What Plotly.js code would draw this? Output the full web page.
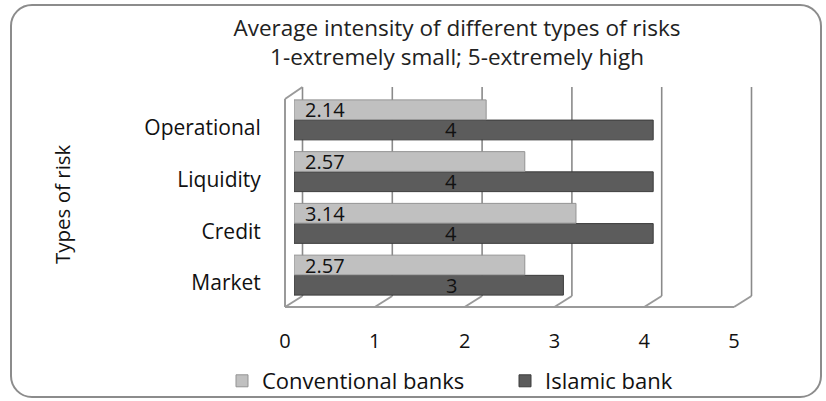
<!DOCTYPE html>
<html><head><meta charset="utf-8">
<script src="https://cdn.plot.ly/plotly-3.0.1.min.js"></script>
<style>
body{margin:0;background:#fff;}
#wrap{position:relative;width:826px;height:401px;}
#chart{width:826px;height:401px;}
#frame{position:absolute;left:10px;top:4px;width:812px;height:394px;border:2px solid #8c8c8c;border-radius:22px;pointer-events:none;box-sizing:border-box;}
</style></head>
<body><div id="wrap"><div id="chart"></div><div id="frame"></div></div>
<script>
const categories = ['Market', 'Credit', 'Liquidity', 'Operational'];
const conventional = [2.57, 3.14, 2.57, 2.14];
const islamic = [3, 4, 4, 4];
const seriesNames = ['Conventional banks', 'Islamic bank'];
const tickVals = [0, 1, 2, 3, 4, 5];

const FONT = '"Open Sans", "Noto Sans", sans-serif';
const W = 826, H = 401;
const M = {l:294, r:83, t:94, b:100};
const plotW = W - M.l - M.r, plotH = H - M.t - M.b;
const pxX = plotW / 5;                          // pixels per x unit
const fy = py => (H - M.b - py) / plotH;        // page pixel y -> paper y
const fx = (v, dpx) => (v * pxX + dpx) / plotW;  // axis value + pixel offset -> paper x
const BACK = 8.5, FRONT = -9;                   // 3D depth offsets in pixels

const traces = [
  {type:'bar', orientation:'h', name: seriesNames[1], y: categories, x: islamic, legend:'legend2',
   marker:{color:'#5c5c5c', line:{color:'#3c3c3c', width:1}}, hoverinfo:'x'},
  {type:'bar', orientation:'h', name: seriesNames[0], y: categories, x: conventional, legend:'legend',
   marker:{color:'#c0c0c0', line:{color:'#939393', width:1}}, hoverinfo:'x'}
];

const annotations = [];
categories.forEach((c, i) => {
  annotations.push({x: 0.35, y: c, xref:'x', yref:'y', text: String(conventional[i]), showarrow:false,
    yshift: 10, xanchor:'center', font:{family:FONT, size:20, color:'#111'}});
  annotations.push({x: 1.75, y: c, xref:'x', yref:'y', text: String(islamic[i]), showarrow:false,
    yshift: -10, xanchor:'center', font:{family:FONT, size:20, color:'#111'}});
});
annotations.push({xref:'paper', yref:'paper', x: (62 - M.l) / plotW, y: fy(204), text:'Types of risk', textangle:-90,
  showarrow:false, xanchor:'center', yanchor:'middle', font:{family:FONT, size:20.5, color:'#111'}});

const wall = {color:'#9a9a9a', width:2};
const shapes = [];
const pline = (x0, y0, x1, y1, line) => ({type:'line', xref:'paper', yref:'paper', x0, y0, x1, y1, line, layer:'below'});
tickVals.forEach(v => {
  shapes.push(pline(fx(v, BACK), fy(296), fx(v, BACK), fy(87), {color:'#8a8a8a', width:1.6}));   // back-wall gridline
  shapes.push(pline(fx(v, BACK), fy(296), fx(v, FRONT), fy(307), wall));                        // floor slant
});
shapes.push(pline(fx(0, FRONT), fy(307), fx(5, FRONT), fy(307), wall));   // front floor edge
shapes.push(pline(fx(0, FRONT), fy(307), fx(0, FRONT), fy(99), wall));    // left wall front edge
shapes.push(pline(fx(0, FRONT), fy(99), fx(0, BACK), fy(87), wall));      // left wall top slant

const legendBase = {orientation:'h', xref:'container', yref:'container', xanchor:'left',
  y: 1-381/401, yanchor:'middle', bgcolor:'rgba(0,0,0,0)',
  font:{family:FONT, size:22, color:'#111'}, itemwidth:30};

const layout = {
  width: W, height: H,
  margin: M,
  paper_bgcolor:'#fff', plot_bgcolor:'rgba(0,0,0,0)',
  font:{family:FONT, color:'#111'},
  title:{text:'Average intensity of different types of risks<br>1-extremely small; 5-extremely high',
    x: 457/826, xanchor:'center', y: 1-35.5/401, yanchor:'middle',
    font:{family:FONT, size:22.5, color:'#222'}},
  barmode:'group', bargap:0.22, bargroupgap:0.02,
  xaxis:{range:[0,5], tickvals: tickVals, showgrid:false,
    zeroline:false, showline:false,
    ticks:'outside', ticklen:22, tickcolor:'rgba(0,0,0,0)', ticklabelshift: -9,
    tickfont:{family:FONT, size:20, color:'#111'}},
  yaxis:{type:'category', categoryorder:'array', categoryarray: categories, showgrid:false,
    zeroline:false, showline:false,
    ticks:'outside', ticklen:28, tickcolor:'rgba(0,0,0,0)', ticklabelshift: 8,
    tickfont:{family:FONT, size:21, color:'#111'}},
  legend: Object.assign({}, legendBase, {x: 222/826}),
  legend2: Object.assign({}, legendBase, {x: 505/826}),
  annotations: annotations,
  shapes: shapes,
  showlegend:true
};

Plotly.newPlot('chart', traces, layout, {displayModeBar:false, staticPlot:true});
</script></body></html>
